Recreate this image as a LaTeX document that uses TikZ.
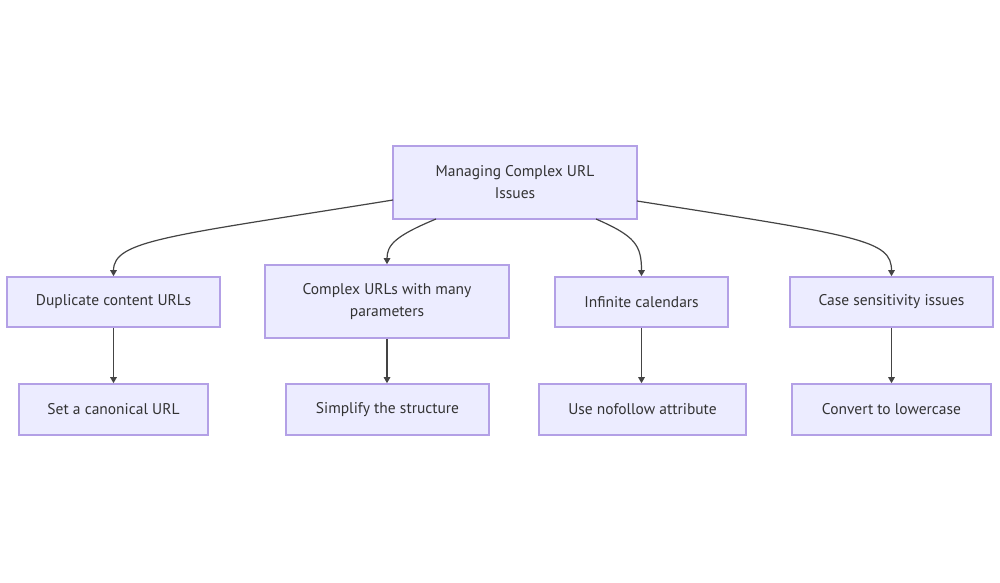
\documentclass[tikz,border=0pt]{standalone}
\usepackage{fontspec}
\setmainfont{PT Sans}
\usetikzlibrary{arrows.meta}
\definecolor{nodefill}{HTML}{ECECFF}
\definecolor{nodeborder}{HTML}{B3A0E6}
\definecolor{ink}{HTML}{333333}
\definecolor{edge}{HTML}{444444}
\tikzset{
  box/.style={draw=nodeborder, fill=nodefill, line width=1.6pt, text=ink, align=center,
    font=\fontsize{15.5}{22}\selectfont, inner sep=0pt, anchor=center},
  link/.style={draw=edge, line width=1.2pt, -{Triangle[length=6pt,width=6.5pt]}},
}
\begin{document}
\begin{tikzpicture}[x=1pt,y=-1pt]
\useasboundingbox[fill=white] (0,0) rectangle (1000,582);
\node[box, minimum width=244pt, minimum height=73pt] (root) at (515,182.5) {Managing Complex URL\\Issues};
\node[box, minimum width=213pt, minimum height=50pt] (dup) at (113.5,302) {Duplicate content URLs};
\node[box, minimum width=244pt, minimum height=73pt] (cpx) at (387,301.5) {Complex URLs with many\\parameters};
\node[box, minimum width=173pt, minimum height=50pt] (inf) at (641.5,302) {Infinite calendars};
\node[box, minimum width=203pt, minimum height=50pt] (case) at (891.5,302) {Case sensitivity issues};
\node[box, minimum width=189pt, minimum height=51pt] (canon) at (113.5,409.5) {Set a canonical URL};
\node[box, minimum width=203pt, minimum height=51pt] (simp) at (387.5,409.5) {Simplify the structure};
\node[box, minimum width=207pt, minimum height=51pt] (nofol) at (642.5,409.5) {Use nofollow attribute};
\node[box, minimum width=199pt, minimum height=51pt] (lower) at (891.5,409.5) {Convert to lowercase};
\coordinate (r1) at (393,200);
\coordinate (r2) at (436,219);
\coordinate (r3) at (596,219);
\coordinate (r4) at (637,201);
\draw[link] (r1) .. controls (170,236) and (113.5,240) .. (dup.north);
\draw[link] (r2) .. controls (395,236) and (387,245) .. (cpx.north);
\draw[link] (r3) .. controls (635,236) and (641.5,245) .. (inf.north);
\draw[link] (r4) .. controls (860,236) and (891.5,240) .. (case.north);
\draw[link] (dup) -- (canon);
\draw[link] (cpx.south) -- (cpx.south |- simp.north);
\draw[link] (inf.south) -- (inf.south |- nofol.north);
\draw[link] (case) -- (lower);
\end{tikzpicture}
\end{document}
